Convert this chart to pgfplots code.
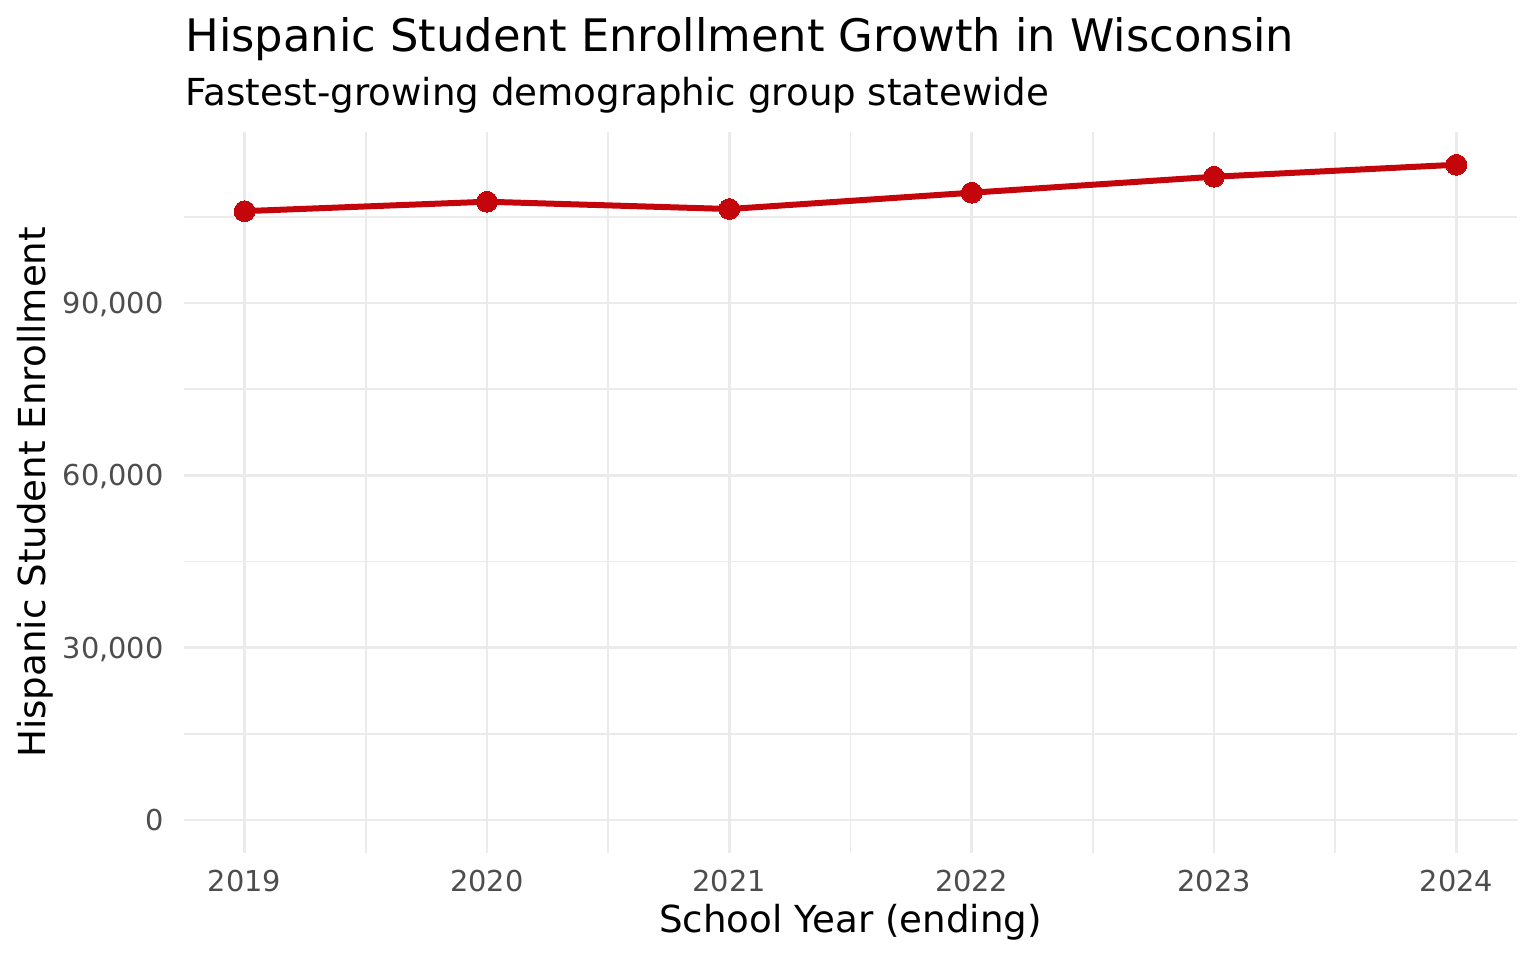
\documentclass[border=0pt]{standalone}
\usepackage{pgfplots}
\pgfplotsset{compat=1.18}
\usepackage{fontspec}
\setmainfont{DejaVu Sans}
\definecolor{uwred}{HTML}{C5050C}
\definecolor{gridgray}{HTML}{EBEBEB}
\definecolor{ticktext}{HTML}{4D4D4D}
\begin{document}
\begin{tikzpicture}
\path[use as bounding box] (0,0) rectangle (768pt,480pt);
\begin{axis}[
  at={(92pt,53.65pt)}, anchor=south west,
  scale only axis, width=666.5pt, height=360.35pt,
  xmin=2018.75, xmax=2024.25, ymin=-5704, ymax=119781,
  axis line style={draw=none}, tick style={draw=none},
  scaled y ticks=false, scaled x ticks=false,
  xtick={2019,2020,2021,2022,2023,2024},
  xticklabels={2019,2020,2021,2022,2023,2024},
  minor xtick={2019.5,2020.5,2021.5,2022.5,2023.5},
  ytick={0,30000,60000,90000},
  yticklabels={0,{30,000},{60,000},{90,000}},
  minor ytick={15000,45000,75000,105000},
  grid=both,
  major grid style={color=gridgray, line width=1.4pt},
  minor grid style={color=gridgray, line width=0.75pt},
  xticklabel style={inner sep=0pt, yshift=-8.65pt, text=ticktext, font=\fontsize{14.4}{16}\selectfont},
  yticklabel style={anchor=base east, inner sep=0pt, xshift=-10pt, yshift=-5.25pt, text=ticktext, font=\fontsize{14.4}{16}\selectfont},
  clip=false,
]
\addplot[color=uwred, line width=3pt, mark=*, mark size=5.2pt, mark options={fill=uwred, draw=uwred, line width=0pt}]
coordinates {
(2019,106000)
(2020,107640)
(2021,106370)
(2022,109210)
(2023,111990)
(2024,114080)
};
\end{axis}
\node[anchor=base west, inner sep=0pt, font=\fontsize{22.4}{25}\selectfont] at (92.5pt,454pt) {Hispanic Student Enrollment Growth in Wisconsin};
\node[anchor=base west, inner sep=0pt, font=\fontsize{18.6}{21}\selectfont] at (92.5pt,427pt) {Fastest-growing demographic group statewide};
\node[anchor=base, inner sep=0pt, font=\fontsize{18.6}{21}\selectfont] at (425.25pt,14pt) {School Year (ending)};
\node[anchor=base, inner sep=0pt, rotate=90, font=\fontsize{18.6}{21}\selectfont] at (22.5pt,233.8pt) {Hispanic Student Enrollment};
\end{tikzpicture}
\end{document}
